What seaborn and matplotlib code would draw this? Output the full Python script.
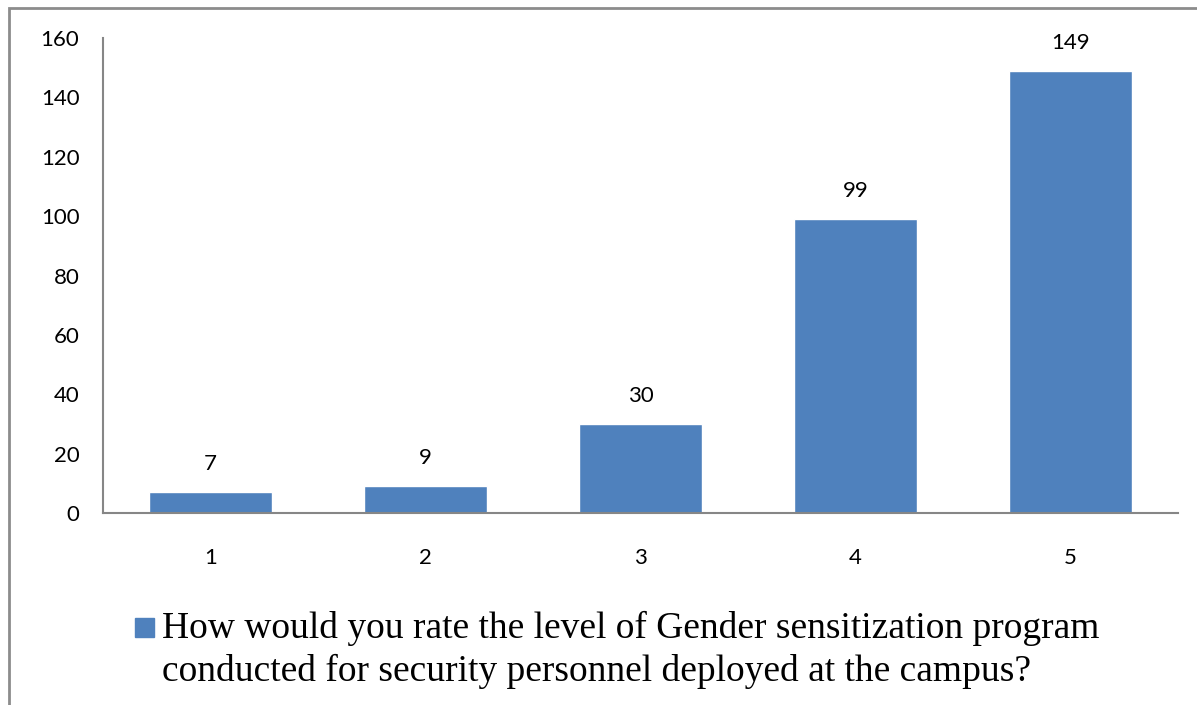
import matplotlib
matplotlib.use("Agg")
import matplotlib.pyplot as plt
import seaborn as sns
import pandas as pd
from matplotlib.patches import Rectangle
from matplotlib.legend_handler import HandlerPatch

categories = ["1", "2", "3", "4", "5"]
values = [7, 9, 30, 99, 149]
series_name = ("How would you rate the level of Gender sensitization program\n"
               "conducted for security personnel deployed at the campus?")
yticks = [0, 20, 40, 60, 80, 100, 120, 140, 160]

sns.set_theme(style="white")
plt.rcParams['font.family'] = ['Lato', 'DejaVu Sans']
plt.rcParams['text.color'] = 'black'

df = pd.DataFrame({"cat": categories, "val": values})

fig = plt.figure(figsize=(11.97, 7.05), dpi=100)
ax = fig.add_axes([103/1197, 1-513/705, 1075/1197, 475/705])

bar_color = "#4F81BD"
sns.barplot(data=df, x="cat", y="val", color=bar_color, width=0.57,
            saturation=1, ax=ax, label="_nolegend_")

ax.set_ylim(0, 160)
ax.set_xlim(-0.5, 4.5)
ax.set_yticks(yticks)
ax.set_xlabel("")
ax.set_ylabel("")
for s in ["top", "right"]:
    ax.spines[s].set_visible(False)
for s in ["left", "bottom"]:
    ax.spines[s].set_color("#868686")
    ax.spines[s].set_linewidth(1.5)
ax.tick_params(axis="y", length=0, pad=17, labelsize=16, labelcolor="black")
ax.tick_params(axis="x", length=0, pad=25, labelsize=16, labelcolor="black")

cont = ax.containers[0]
ax.bar_label(cont, labels=[str(v) for v in values], padding=13, fontsize=16,
             color="black")


def square_patch(legend, orig_handle, xdescent, ydescent, width, height, fontsize):
    return Rectangle((-xdescent, -ydescent), width, height * 0.73)


handle = Rectangle((0, 0), 1, 1, color=bar_color)
leg = ax.legend([handle], [series_name], loc="upper left",
                bbox_to_anchor=(135/1197, 1-611/705), bbox_transform=fig.transFigure,
                frameon=False, handlelength=0.5, handleheight=0.7,
                handletextpad=0.22, borderpad=0, borderaxespad=0,
                handler_map={Rectangle: HandlerPatch(patch_func=square_patch)},
                prop={"family": "Liberation Serif", "size": 27})
for t in leg.get_texts():
    t.set_color("black")
    t.set_linespacing(1.28)
# align the square with the first line of the label
for col in leg._legend_handle_box.get_children():
    for hp in col.get_children():
        hp.align = "top"

# outer chart border (top and left visible)
border = Rectangle((9/1197, -0.1), 1.2, 1-8/705+0.1, transform=fig.transFigure,
                   fill=False, edgecolor="#8c8c8c", linewidth=2, clip_on=False)
fig.patches.append(border)

fig.savefig("out.png", dpi=100)
